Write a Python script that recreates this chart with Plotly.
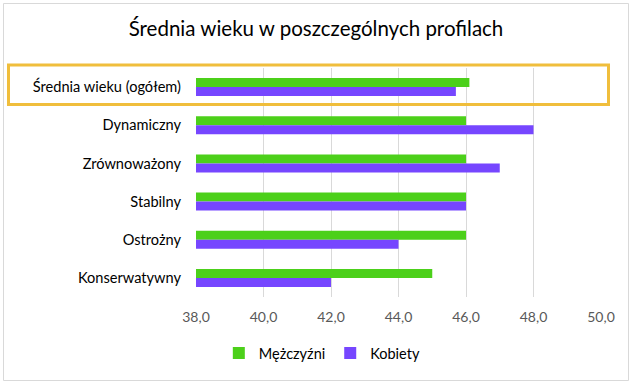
import plotly.graph_objects as go

categories = ["Średnia wieku (ogółem)", "Dynamiczny", "Zrównoważony", "Stabilny", "Ostrożny", "Konserwatywny"]
men = [46.1, 46.0, 46.0, 46.0, 46.0, 45.0]
women = [45.7, 48.0, 47.0, 46.0, 44.0, 42.0]
tick_vals = [38, 40, 42, 44, 46, 48, 50]
tick_text = ["38,0", "40,0", "42,0", "44,0", "46,0", "48,0", "50,0"]

W, H = 632, 383
L, R, T, B = 196, 601, 68, 297

def px(x):
    return (x - L) / (R - L)

def py(y):
    return (B - y) / (B - T)

FONT = "Lato, 'Open Sans', sans-serif"

fig = go.Figure()
fig.add_trace(go.Bar(y=categories, x=[v - 38 for v in men], base=38, orientation="h",
                     name="Mężczyźni", marker_color="#4CD01A", marker_line_width=0))
fig.add_trace(go.Bar(y=categories, x=[v - 38 for v in women], base=38, orientation="h",
                     name="Kobiety", marker_color="#7646FF", marker_line_width=0))

fig.update_layout(
    width=W, height=H,
    margin=dict(l=L, r=W - R, t=T, b=H - B, autoexpand=False),
    paper_bgcolor="white", plot_bgcolor="white",
    barmode="group", bargap=0.53, bargroupgap=0,
    font=dict(family=FONT, size=14, color="#000000"),
    title=dict(text="Średnia wieku w poszczególnych profilach", x=0.5, xref="container",
               y=1 - 29 / H, yref="container", yanchor="middle",
               font=dict(family=FONT, size=20.5, color="#000000")),
    xaxis=dict(range=[38, 50], tickvals=tick_vals, ticktext=tick_text,
               showgrid=True, gridcolor="#D9D9D9", gridwidth=1, zeroline=False,
               showline=False, ticks="", tickfont=dict(size=14, color="#595959"),
               ticklabelstandoff=10),
    yaxis=dict(autorange="reversed", showgrid=False, showline=False, ticks="",
               tickfont=dict(size=14.6, color="#000000"), ticklabelstandoff=14),
    legend=dict(orientation="h", xref="container", yref="container", x=0.51, xanchor="center",
                y=1 - 353 / H, yanchor="middle", font=dict(size=14.5, color="#000000"),
                itemwidth=30, traceorder="normal"),
    shapes=[
        dict(type="rect", xref="paper", yref="paper", x0=px(3.5), x1=px(628.5), y0=py(3.5), y1=py(380.5),
             line=dict(color="#D9D9D9", width=1), fillcolor="rgba(0,0,0,0)", layer="below"),
        dict(type="rect", xref="paper", yref="paper", x0=px(8.5), x1=px(608.5), y0=py(65), y1=py(104.5),
             line=dict(color="#F0BE3C", width=3), fillcolor="rgba(0,0,0,0)", layer="above"),
    ],
)

fig.write_html("out.html", config={"displayModeBar": False},
               post_script="document.body.style.margin='0';document.body.style.padding='0';")
